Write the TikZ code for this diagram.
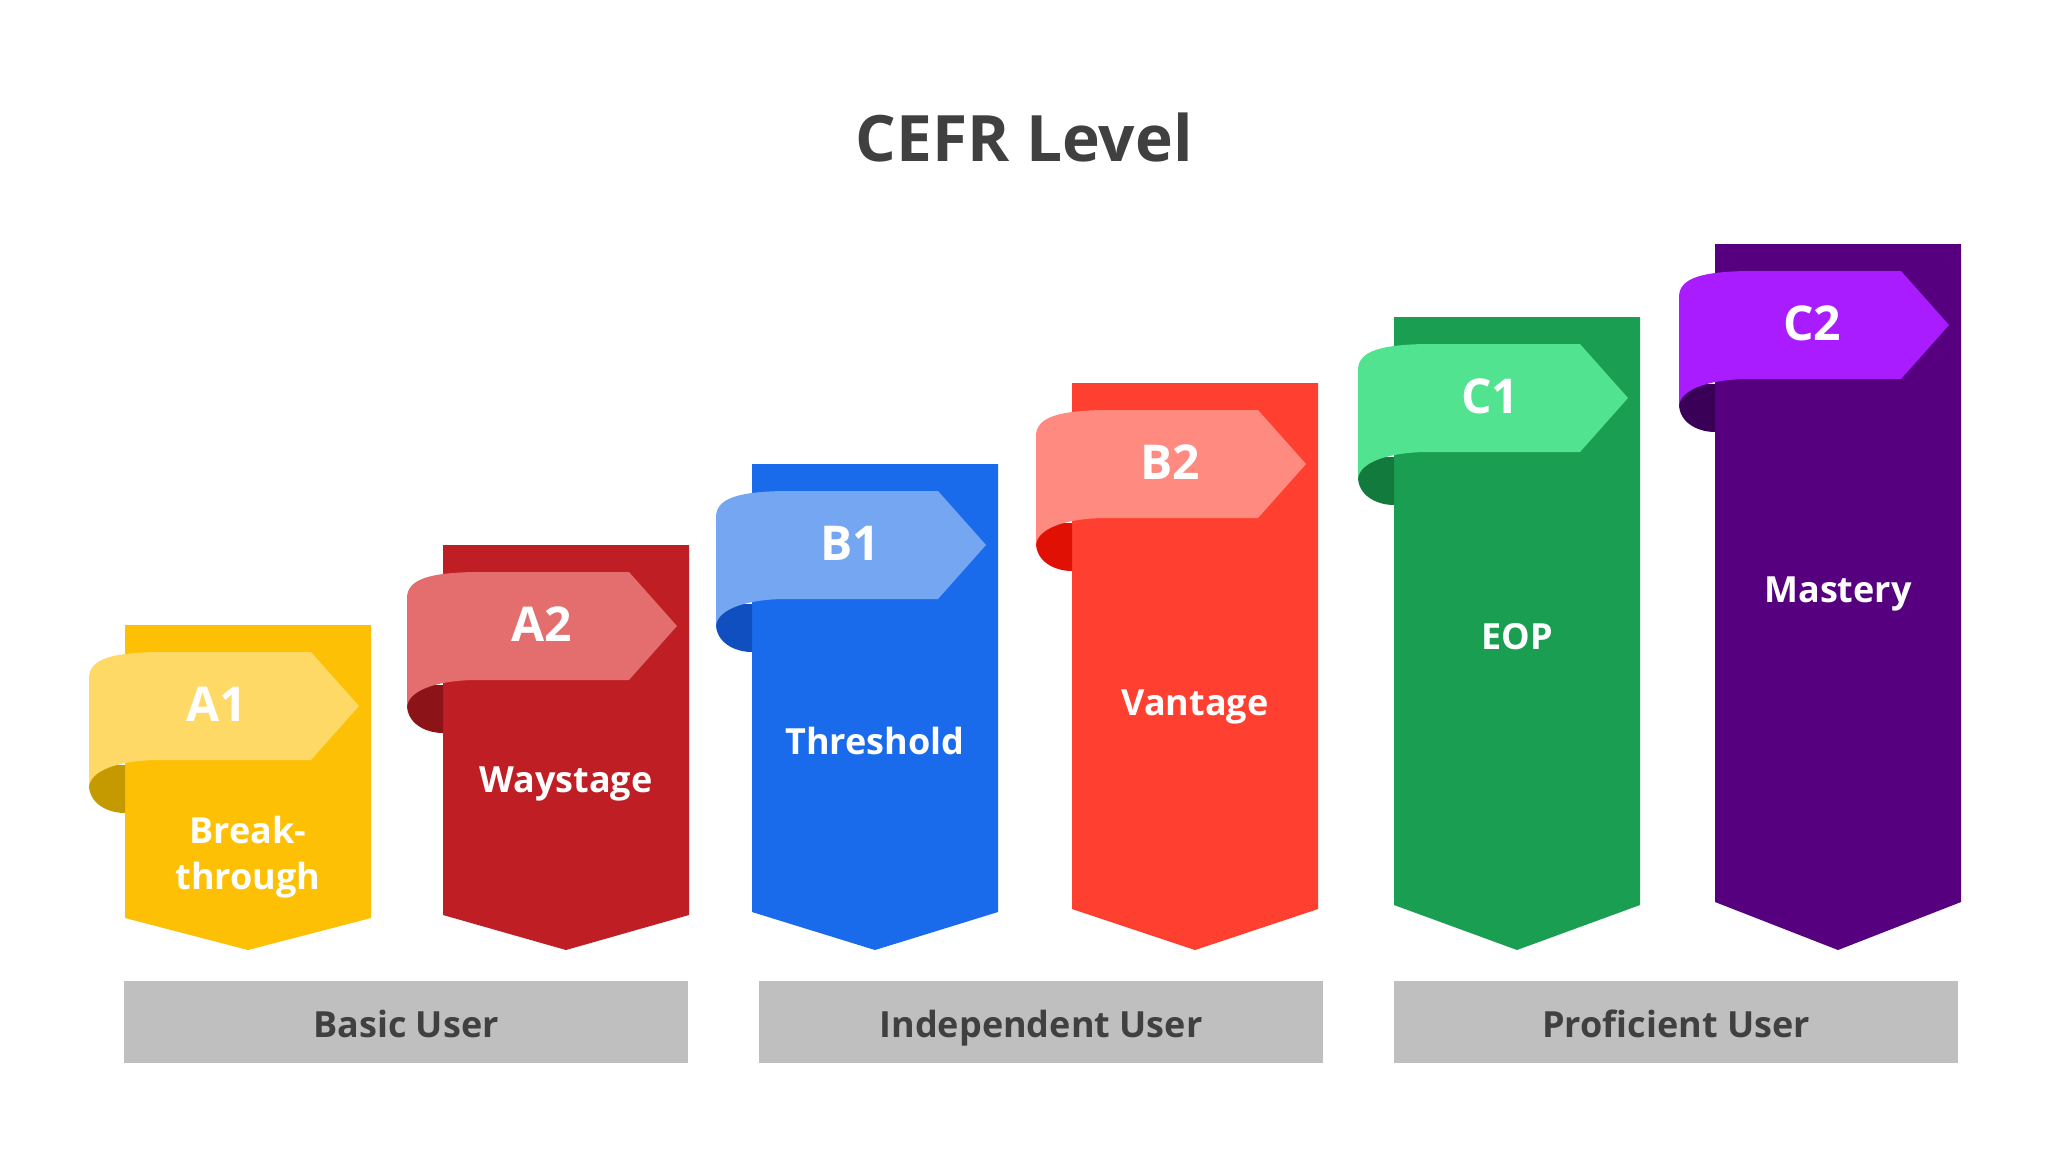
\documentclass[tikz,border=0pt]{standalone}
\usepackage{fontspec}
\setmainfont{Open Sans}
\definecolor{a1col}{HTML}{FDC004}\definecolor{a1rib}{HTML}{FED966}\definecolor{a1dark}{HTML}{C49A00}
\definecolor{a2col}{HTML}{BE1E24}\definecolor{a2rib}{HTML}{E46D6D}\definecolor{a2dark}{HTML}{8C1418}
\definecolor{b1col}{HTML}{1A6BEB}\definecolor{b1rib}{HTML}{74A6F2}\definecolor{b1dark}{HTML}{0F4FBF}
\definecolor{b2col}{HTML}{FF3F30}\definecolor{b2rib}{HTML}{FF8A80}\definecolor{b2dark}{HTML}{E01005}
\definecolor{c1col}{HTML}{1A9E52}\definecolor{c1rib}{HTML}{52E391}\definecolor{c1dark}{HTML}{137A3E}
\definecolor{c2col}{HTML}{560080}\definecolor{c2rib}{HTML}{A81CFF}\definecolor{c2dark}{HTML}{3A0058}
\definecolor{bargray}{HTML}{BFBFBF}
\definecolor{textgray}{HTML}{404040}
\tikzset{
  riblabel/.style={text=white, inner sep=0pt, font=\bfseries\fontsize{48}{48}\selectfont},
  collabel/.style={text=white, inner sep=0pt, align=center, font=\bfseries\fontsize{36}{46}\selectfont},
  barbox/.style={fill=bargray, inner sep=0pt, minimum width=564pt, minimum height=82pt},
  barlabel/.style={text=textgray, inner sep=0pt, anchor=base, font=\bfseries\fontsize{36}{36}\selectfont},
  titlelabel/.style={text=textgray, inner sep=0pt, font=\bfseries\fontsize{64}{64}\selectfont}
}
% #1 left x, #2 top y, #3 y of the side corners at the bottom, #4 colour prefix, #5 label, #6 label x offset
\newcommand\cefrcolumn[6]{%
  \fill[#4col] (#1,#2) -- (#1+246,#2) -- (#1+246,#3) -- (#1+123,950) -- (#1,#3) -- cycle;
  \fill[#4dark] (#1-36,#2+140) -- (#1-36,#2+160) .. controls (#1-36,#2+178) and (#1-18,#2+188) .. (#1,#2+188) -- (#1,#2+140) -- cycle;
  \fill[#4rib] (#1-36,#2+163) -- (#1-36,#2+53) .. controls (#1-36,#2+33) and (#1-10,#2+28) .. (#1+30,#2+27) -- (#1+186,#2+27) -- (#1+234,#2+81) -- (#1+186,#2+135) -- (#1+30,#2+135) .. controls (#1-8,#2+136) and (#1-36,#2+146) .. (#1-36,#2+163) -- cycle;
  \node[riblabel] (#4lab) at (#1+#6,#2+79) {#5};
}
\begin{document}
\begin{tikzpicture}[x=1pt,y=-1pt]
\useasboundingbox[fill=white] (0,0) rectangle (2048,1152);
\node[titlelabel] (title) at (1024,137) {CEFR Level};

\cefrcolumn{125}{625}{918}{a1}{A1}{92}
\cefrcolumn{443}{545}{915}{a2}{A2}{99}
\cefrcolumn{752}{464}{912}{b1}{B1}{98}
\cefrcolumn{1072}{383}{909}{b2}{B2}{98}
\cefrcolumn{1394}{317}{905}{c1}{C1}{96}
\cefrcolumn{1715}{244}{902}{c2}{C2}{97}

\node[collabel] (break) at (248,857) {Break-\\through};
\node[collabel] (way) at (566,784) {Waystage};
\node[collabel] (thresh) at (875,741) {Threshold};
\node[collabel] (vant) at (1195,707) {Vantage};
\node[collabel] (eop) at (1517,637) {EOP};
\node[collabel] (mast) at (1838,594) {Mastery};

\node[barbox] (basic) at (406,1022) {};
\node[barbox] (indep) at (1041,1022) {};
\node[barbox] (prof) at (1676,1022) {};
\node[barlabel] (basictext) at (406,1037) {Basic User};
\node[barlabel] (indeptext) at (1041,1037) {Independent User};
\node[barlabel] (proftext) at (1676,1037) {Proficient User};
\end{tikzpicture}
\end{document}
